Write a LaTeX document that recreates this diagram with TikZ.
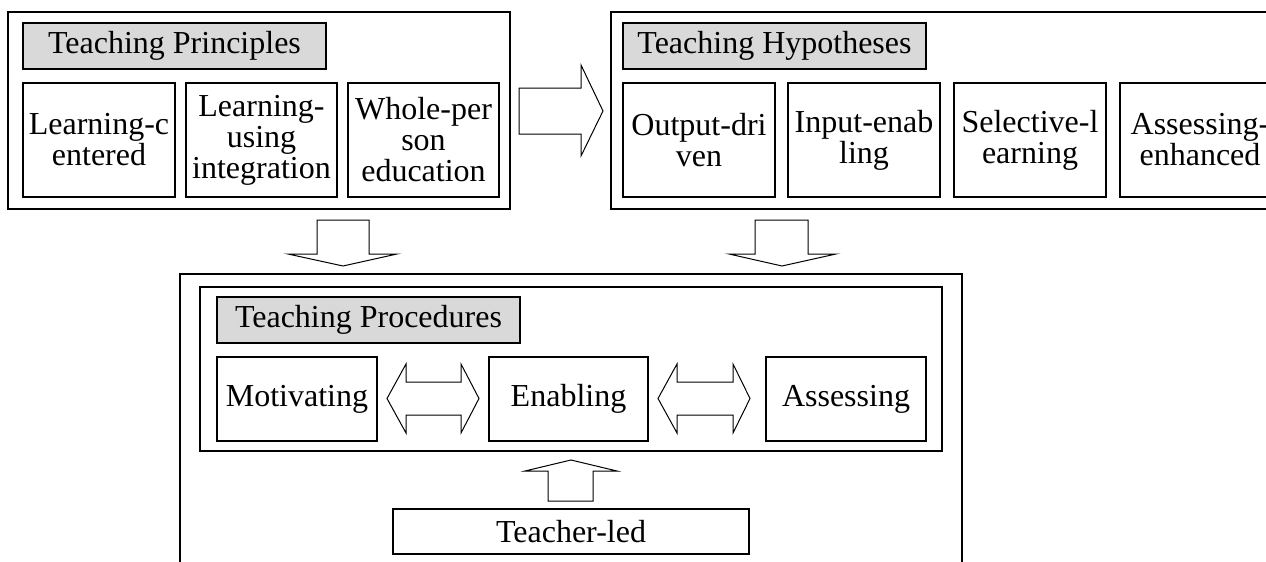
\documentclass[tikz,border=0pt]{standalone}
\usepackage{fontspec}
\setmainfont{Liberation Serif}
\begin{document}
\begin{tikzpicture}[x=1pt,y=-1pt,
  box/.style={draw=black, line width=1.8pt, inner sep=0pt, align=center,
    font=\fontsize{32}{31}\selectfont},
  frame/.style={draw=black, line width=1.8pt, inner sep=0pt},
  titlebox/.style={box, fill=black!15},
  blockarrow/.style={draw=black, line width=1pt, fill=white, line join=miter}]
\useasboundingbox (0,0) rectangle (1266,562);
\clip (0,0) rectangle (1266,562);
% Teaching Principles
\node[frame, minimum width=502, minimum height=197] (A) at (259,110.5) {};
\node[titlebox, minimum width=303, minimum height=46] (At) at (174.5,46) {Teaching Principles};
\node[box, minimum width=152, minimum height=114] (A1) at (99,140) {Learning-c\\entered};
\node[box, minimum width=151, minimum height=114] (A2) at (261.5,140) {Learning-\\using\\integration};
\node[box, minimum width=151, minimum height=114] (A3) at (423.5,140) {Whole-per\\son\\education};
% Teaching Hypotheses
\node[frame, minimum width=690, minimum height=197] (B) at (956,110.5) {};
\node[titlebox, minimum width=303, minimum height=46] (Bt) at (774.5,46) {Teaching Hypotheses};
\node[box, minimum width=152, minimum height=114] (B1) at (699,140) {Output-dri\\ven};
\node[box, minimum width=152, minimum height=114] (B2) at (864,140) {Input-enab\\ling};
\node[box, minimum width=152, minimum height=114] (B3) at (1030,140) {Selective-l\\earning};
\node[box, minimum width=160, minimum height=114] (B4) at (1200,140) {Assessing-\\enhanced};
% Teaching Procedures
\node[frame, minimum width=782, minimum height=320] (C) at (571,434) {};
\node[frame, minimum width=742, minimum height=164] (Ci) at (571,369) {};
\node[titlebox, minimum width=303, minimum height=46] (Ct) at (368.5,320) {Teaching Procedures};
\node[box, minimum width=160, minimum height=84] (C1) at (297,399) {Motivating};
\node[box, minimum width=159, minimum height=84] (C2) at (568.5,399) {Enabling};
\node[box, minimum width=160, minimum height=84] (C3) at (846,399) {Assessing};
\node[box, minimum width=356, minimum height=45] (T) at (571,531.5) {Teacher-led};
% block arrows
% right arrow A -> B
\draw[blockarrow] (519,88) -- (581,88) -- (581,65) -- (603,111) -- (581,156) -- (581,134) -- (519,134) -- cycle;
% down arrows
\draw[blockarrow] (317,220) -- (369,220) -- (369,254) -- (397,254) -- (343,266) -- (288,254) -- (317,254) -- cycle;
\draw[blockarrow] (755,220) -- (808,220) -- (808,254) -- (836,254) -- (782,266) -- (729,254) -- (755,254) -- cycle;
% double arrows
\draw[blockarrow] (387,398.5) -- (406,364) -- (406,382) -- (461,382) -- (461,364) -- (479,398.5) -- (461,433) -- (461,415) -- (406,415) -- (406,433) -- cycle;
\draw[blockarrow] (658,398.5) -- (677,364) -- (677,382) -- (733,382) -- (733,364) -- (750,398.5) -- (733,433) -- (733,415) -- (677,415) -- (677,433) -- cycle;
% up arrow
\draw[blockarrow] (548,501) -- (548,471) -- (525,471) -- (571,460) -- (617,471) -- (593,471) -- (593,501) -- cycle;
\end{tikzpicture}
\end{document}
